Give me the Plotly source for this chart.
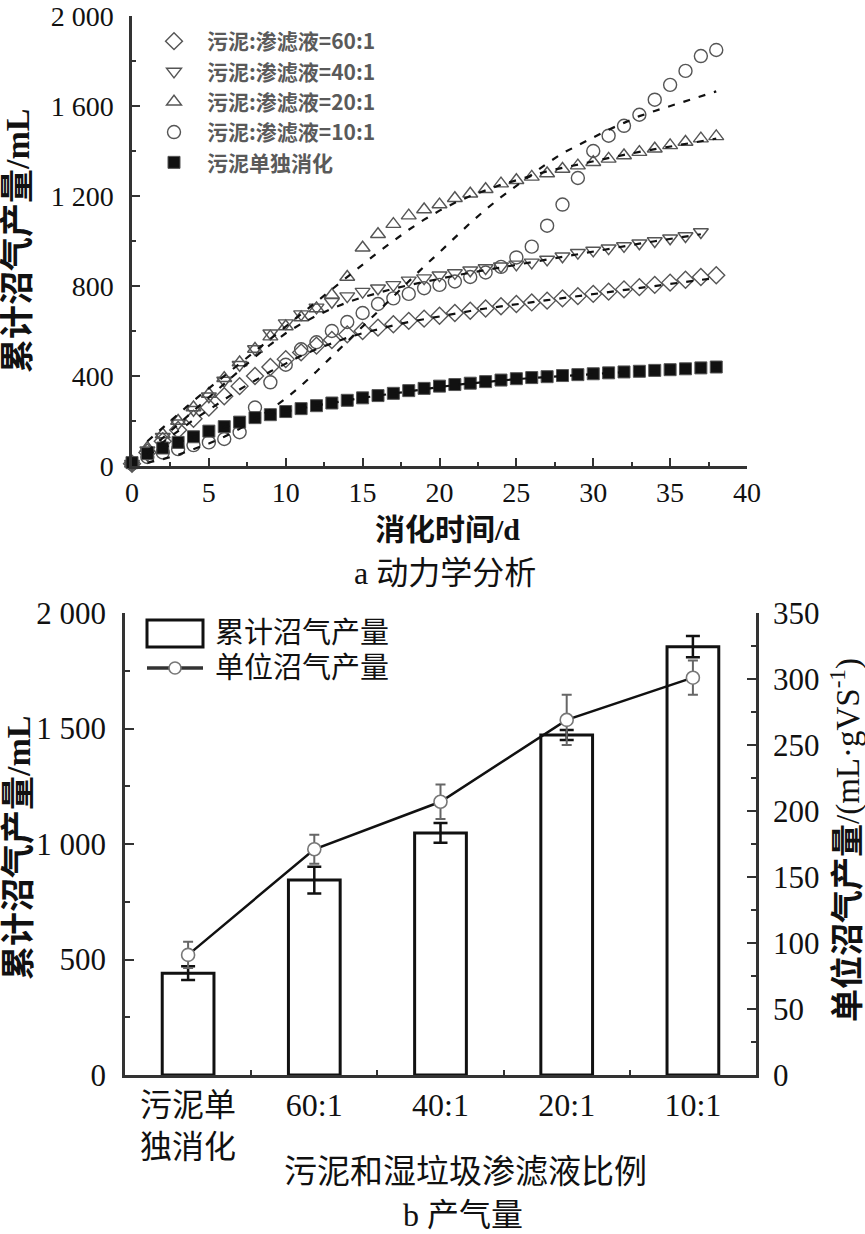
import plotly.graph_objects as go

# ---------------- data: panel a (kinetics) ----------------
days = list(range(0, 39))
sludge_only = [15, 55, 80, 105, 130, 155, 175, 195, 215, 228, 242, 255, 268, 280, 292, 303,
               313, 323, 335, 345, 355, 362, 368, 375, 382, 388, 393, 397, 402, 406, 410, 414,
               418, 421, 425, 428, 432, 436, 440]
ratio_60 = [10, 60, 110, 160, 210, 260, 310, 355, 400, 440, 475, 505, 535, 560, 585, 600,
            615, 630, 645, 655, 668, 680, 690, 700, 710, 720, 727, 735, 745, 755, 765, 775,
            785, 795, 805, 815, 828, 840, 848]
days_40 = list(range(0, 38))
ratio_40 = [10, 70, 130, 190, 250, 310, 380, 450, 520, 590, 635, 675, 705, 730, 755, 775,
            790, 805, 825, 835, 848, 858, 870, 880, 888, 896, 905, 918, 932, 948, 958, 968,
            978, 990, 1000, 1012, 1022, 1040]
ratio_20 = [10, 80, 140, 200, 260, 320, 390, 460, 520, 575, 620, 660, 700, 760, 840, 970,
            1030, 1075, 1113, 1140, 1162, 1190, 1210, 1230, 1255, 1270, 1285, 1300, 1320, 1335,
            1350, 1365, 1380, 1395, 1410, 1425, 1440, 1455, 1465]
ratio_10 = [10, 40, 60, 75, 93, 105, 120, 150, 260, 372, 450, 519, 550, 600, 640, 680,
            720, 745, 765, 790, 805, 820, 840, 860, 885, 927, 975, 1068, 1162, 1280, 1400, 1468,
            1512, 1561, 1628, 1694, 1756, 1822, 1849]

# fitted curves (dashed)
fit_days = list(range(1, 39))
fit_10 = [15, 30, 50, 75, 100, 130, 165, 205, 250, 300, 357, 420, 487, 555, 622, 690, 757,
          822, 887, 950, 1015, 1080, 1140, 1195, 1245, 1295, 1345, 1390, 1425, 1460, 1495,
          1525, 1555, 1578, 1600, 1620, 1645, 1665]
fit_20 = [110, 170, 230, 290, 345, 400, 455, 510, 565, 620, 675, 730, 785, 840, 895, 950,
          1000, 1050, 1095, 1135, 1170, 1200, 1225, 1250, 1270, 1290, 1310, 1325, 1340, 1355,
          1370, 1383, 1396, 1408, 1420, 1432, 1443, 1455]
fit_days_40 = list(range(1, 38))
fit_40 = [65, 125, 185, 245, 305, 365, 425, 485, 540, 590, 632, 668, 700, 727, 750, 770,
          788, 804, 819, 833, 846, 859, 871, 883, 895, 907, 919, 931, 943, 955, 966, 977,
          988, 999, 1010, 1020, 1030]
fit_60 = [55, 105, 155, 205, 250, 295, 340, 380, 420, 455, 490, 520, 545, 570, 590, 608,
          625, 640, 653, 666, 678, 689, 700, 710, 719, 728, 737, 746, 755, 764, 773, 782,
          791, 800, 809, 818, 827, 836]
fit_sludge = [50, 80, 105, 130, 152, 173, 193, 212, 228, 243, 256, 269, 281, 292, 303, 313,
              323, 333, 343, 352, 360, 367, 374, 380, 386, 391, 396, 401, 405, 409, 413, 417,
              420, 424, 427, 431, 435, 439]

series_names = ["污泥:渗滤液=60:1", "污泥:渗滤液=40:1", "污泥:渗滤液=20:1",
                "污泥:渗滤液=10:1", "污泥单独消化"]
y_ticks_a = [0, 400, 800, 1200, 1600, 2000]
y_ticktext_a = ["0", "400", "800", "1 200", "1 600", "2 000"]
x_ticks_a = [0, 5, 10, 15, 20, 25, 30, 35, 40]

# ---------------- data: panel b (gas production) ----------------
categories = ["污泥单<br>独消化", "60:1", "40:1", "20:1", "10:1"]
cumulative = [441, 844, 1048, 1472, 1854]
cumulative_err = [30, 58, 43, 22, 46]
specific = [91, 171, 207, 269, 301]
specific_err = [10, 11, 13, 19, 13]
y_ticks_b = [0, 500, 1000, 1500, 2000]
y_ticktext_b = ["0", "500", "1 000", "1 500", "2 000"]
y_ticks_b2 = [0, 50, 100, 150, 200, 250, 300, 350]

SERIF = "Liberation Serif, Noto Sans CJK SC"
CJK = "Noto Sans CJK SC"
AX = "#333333"
W, H = 865, 1234

fig = go.Figure()

# ---- panel a markers ----
mk_line = dict(width=1.4, color="#555555")
fig.add_trace(go.Scatter(x=days, y=ratio_60, mode="markers", name=series_names[0],
                         legend="legend", cliponaxis=False,
                         marker=dict(symbol="diamond-open", size=13, color="#555555", line=mk_line)))
fig.add_trace(go.Scatter(x=days_40, y=ratio_40, mode="markers", name=series_names[1],
                         legend="legend", cliponaxis=False,
                         marker=dict(symbol="triangle-down-open", size=13, color="#555555", line=mk_line)))
fig.add_trace(go.Scatter(x=days, y=ratio_20, mode="markers", name=series_names[2],
                         legend="legend", cliponaxis=False,
                         marker=dict(symbol="triangle-up-open", size=13, color="#555555", line=mk_line)))
fig.add_trace(go.Scatter(x=days, y=ratio_10, mode="markers", name=series_names[3],
                         legend="legend", cliponaxis=False,
                         marker=dict(symbol="circle-open", size=13, color="#555555", line=mk_line)))
fig.add_trace(go.Scatter(x=days, y=sludge_only, mode="markers", name=series_names[4],
                         legend="legend", cliponaxis=False,
                         marker=dict(symbol="square", size=12, color="#111111",
                                     line=dict(width=1, color="#555555"))))

# ---- panel a fitted dashed curves ----
dash_line = dict(color="#111111", width=2.2, dash="7px,9px")
for fx, fy in [(fit_days, fit_60), (fit_days_40, fit_40), (fit_days, fit_20),
               (fit_days, fit_10), (fit_days, fit_sludge)]:
    fig.add_trace(go.Scatter(x=fx, y=fy, mode="lines", line=dash_line, showlegend=False,
                             hoverinfo="skip"))

# ---- panel b ----
fig.add_trace(go.Bar(x=categories, y=cumulative, xaxis="x2", yaxis="y2", width=0.41,
                     name="累计沼气产量", showlegend=False,
                     marker=dict(color="white", line=dict(color="#111111", width=3)),
                     error_y=dict(type="data", array=cumulative_err, color="#111111",
                                  thickness=2.5, width=7)))
fig.add_trace(go.Scatter(x=categories, y=specific, xaxis="x2", yaxis="y3", mode="lines+markers",
                         name="单位沼气产量", showlegend=False, cliponaxis=False,
                         line=dict(color="#111111", width=2.5),
                         marker=dict(symbol="circle", size=13, color="white",
                                     line=dict(color="#777777", width=1.6)),
                         error_y=dict(type="data", array=specific_err, color="#666666",
                                      thickness=2, width=5)))

tickfont = dict(family=SERIF, size=28, color="#111111")
tickfont_b = dict(family=SERIF, size=31, color="#111111")

common = dict(showgrid=False, zeroline=False, automargin=False, showline=True,
              linewidth=2.5, linecolor=AX, tickcolor=AX, tickwidth=2,
              ticklabeloverflow="allow")

fig.update_layout(
    width=W, height=H,
    margin=dict(l=0, r=0, t=0, b=0, autoexpand=False),
    paper_bgcolor="white", plot_bgcolor="white",
    xaxis=dict(domain=[132 / W, 747 / W], range=[0, 40], anchor="y",
               tickvals=x_ticks_a, ticks="inside", ticklen=8,
               tickfont=tickfont, ticklabelstandoff=0,
               minor=dict(tick0=0, dtick=2.5, ticks="inside", ticklen=4, tickwidth=1.5,
                          tickcolor=AX, showgrid=False), **common),
    yaxis=dict(domain=[1 - 466 / H, 1 - 16 / H], range=[0, 2000], anchor="x",
               tickvals=y_ticks_a, ticktext=y_ticktext_a,
               ticks="inside", ticklen=8,
               tickfont=tickfont, ticklabelstandoff=10,
               minor=dict(tick0=0, dtick=200, ticks="inside", ticklen=4, tickwidth=1.5,
                          tickcolor=AX, showgrid=False), **common),
    xaxis2=dict(domain=[125 / W, 756 / W], anchor="y2", type="category", range=[-0.5, 4.5],
                tickson="boundaries", ticks="inside", ticklen=5,
                tickfont=dict(family=SERIF, size=32, color="#111111"),
                ticklabelstandoff=0, **common),
    yaxis2=dict(domain=[1 - 1075 / H, 1 - 613 / H], anchor="x2", range=[0, 2000],
                tickvals=y_ticks_b, ticktext=y_ticktext_b,
                ticks="inside", ticklen=9,
                tickfont=tickfont_b, ticklabelstandoff=10,
                minor=dict(tick0=0, dtick=250, ticks="inside", ticklen=5, tickwidth=1.5,
                           tickcolor=AX, showgrid=False), **common),
    yaxis3=dict(overlaying="y2", side="right", anchor="x2", range=[0, 350],
                tickvals=y_ticks_b2, ticks="inside", ticklen=9,
                tickfont=tickfont_b, ticklabelstandoff=8,
                minor=dict(tick0=0, dtick=25, ticks="inside", ticklen=5, tickwidth=1.5,
                           tickcolor=AX, showgrid=False), **common),
    legend=dict(x=141 / W, y=1 - 21 / H, xanchor="left", yanchor="top",
                font=dict(family=CJK, size=21, color="#5a5a5a", weight="bold"),
                tracegroupgap=0, itemwidth=56, bgcolor="rgba(0,0,0,0)"),
    showlegend=True,
)

# ---- axis titles and captions (annotations) ----
ann = [
    dict(text="<b>累计沼气产量/mL</b>", x=17 / W, y=1 - 241 / H, textangle=-90,
         font=dict(family=SERIF, size=34, color="#111111")),
    dict(text="<b>消化时间/d</b>", x=448 / W, y=1 - 529 / H,
         font=dict(family=SERIF, size=30, color="#111111")),
    dict(text="a 动力学分析", x=445 / W, y=1 - 573 / H,
         font=dict(family=SERIF, size=32, color="#111111")),
    dict(text="<b>累计沼气产量/mL</b>", x=18 / W, y=1 - 848 / H, textangle=-90,
         font=dict(family=SERIF, size=34, color="#111111")),
    dict(text="<b>单位沼气产量</b>/(mL·gVS<sup>-1</sup>)", x=845 / W, y=1 - 840 / H,
         textangle=-90, font=dict(family=SERIF, size=33, color="#111111")),
    dict(text="污泥和湿垃圾渗滤液比例", x=466 / W, y=1 - 1172 / H,
         font=dict(family=SERIF, size=33, color="#111111")),
    dict(text="b 产气量", x=463 / W, y=1 - 1215 / H,
         font=dict(family=SERIF, size=32, color="#111111")),
    # panel b legend labels
    dict(text="累计沼气产量", x=213 / W, y=1 - 633 / H, xanchor="left",
         font=dict(family=SERIF, size=29, color="#111111")),
    dict(text="单位沼气产量", x=213 / W, y=1 - 668 / H, xanchor="left",
         font=dict(family=SERIF, size=29, color="#111111")),
]
for a in ann:
    a.setdefault("xanchor", "center")
    a.update(xref="paper", yref="paper", yanchor="middle", showarrow=False)
    fig.add_annotation(**a)

# ---- panel b legend swatches ----
fig.add_shape(type="rect", xref="paper", yref="paper",
              x0=147 / W, x1=203 / W, y0=1 - 647 / H, y1=1 - 620 / H,
              line=dict(color="#111111", width=3), fillcolor="white")
fig.add_shape(type="line", xref="paper", yref="paper",
              x0=147 / W, x1=203 / W, y0=1 - 668 / H, y1=1 - 668 / H,
              line=dict(color="#333333", width=3.5))
fig.add_shape(type="circle", xref="paper", yref="paper",
              x0=169 / W, x1=181 / W, y0=1 - 674 / H, y1=1 - 662 / H,
              line=dict(color="#777777", width=1.6), fillcolor="white")

fig.write_html("out.html", config={"displayModeBar": False},
               post_script="document.body.style.margin='0';")
